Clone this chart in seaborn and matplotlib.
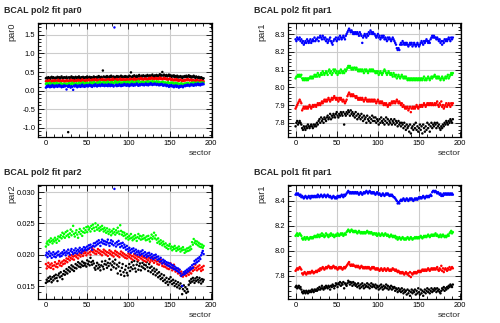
import numpy as np
import pandas as pd
import matplotlib
matplotlib.use("Agg")
import matplotlib.pyplot as plt
from matplotlib.ticker import MultipleLocator, FormatStrFormatter
import seaborn as sns

sectors = list(range(192))
series_names = ["black", "red", "green", "blue"]
series_colors = ["#000000", "#ff0000", "#00ff00", "#0000ff"]

# ---------------- BCAL pol2 fit par0 ----------------
p2par0_black = [
    0.33, 0.35, 0.32, 0.36, 0.34, 0.31, 0.35, 0.37, 0.33, 0.36, 0.34, 0.32, 0.35, 0.33, 0.37, 0.34, 0.36, 0.32, 0.35, 0.38, 0.34, 0.33, 0.36, 0.35,
    0.34, 0.37, 0.33, -1.12, 0.36, 0.32, 0.35, 0.38, 0.34, 0.36, 0.31, 0.35, 0.37, 0.33, 0.36, 0.34, 0.38, 0.35, 0.32, 0.36, 0.34, 0.37, 0.33, 0.35,
    0.36, 0.34, 0.38, 0.33, 0.35, 0.37, 0.34, 0.36, 0.32, 0.35, 0.38, 0.34, 0.36, 0.33, 0.37, 0.35, 0.39, 0.36, 0.34, 0.37, 0.35, 0.54, 0.38, 0.36,
    0.37, 0.35, 0.39, 0.36, 0.34, 0.38, 0.36, 0.40, 0.37, 0.35, 0.38, 0.36, 0.34, 0.37, 0.39, 0.36, 0.38, 0.35, 0.37, 0.40, 0.36, 0.38, 0.35, 0.37,
    0.39, 0.36, 0.38, 0.35, 0.37, 0.40, 0.38, 0.49, 0.36, 0.39, 0.37, 0.41, 0.38, 0.36, 0.40, 0.37, 0.39, 0.42, 0.38, 0.36, 0.40, 0.38, 0.41, 0.39,
    0.37, 0.40, 0.38, 0.42, 0.39, 0.37, 0.41, 0.38, 0.40, 0.43, 0.39, 0.37, 0.41, 0.38, 0.42, 0.40, 0.38, 0.41, 0.44, 0.39, 0.42, 0.50, 0.40, 0.43,
    0.41, 0.39, 0.42, 0.38, 0.40, 0.43, 0.39, 0.41, 0.37, 0.40, 0.38, 0.41, 0.36, 0.39, 0.37, 0.40, 0.35, 0.38, 0.36, 0.39, 0.37, 0.34, 0.38, 0.36,
    0.39, 0.37, 0.40, 0.36, 0.38, 0.41, 0.37, 0.39, 0.35, 0.38, 0.36, 0.40, 0.37, 0.34, 0.38, 0.36, 0.33, 0.37, 0.35, 0.32, 0.36, 0.34, 0.31, 0.33,
]
p2par0_red = [
    0.25, 0.27, 0.24, 0.26, 0.28, 0.25, 0.23, 0.27, 0.26, 0.24, 0.28, 0.25, 0.27, 0.24, 0.26, 0.29, 0.25, 0.27, 0.23, 0.26, 0.28, 0.25, 0.27, 0.24,
    0.26, 0.28, 0.25, 0.27, 0.24, 0.26, 0.29, 0.25, 0.27, 0.28, 0.24, 0.26, 0.28, 0.25, 0.27, 0.29, 0.26, 0.28, 0.25, 0.27, 0.30, 0.26, 0.28, 0.25,
    0.27, 0.29, 0.26, 0.28, 0.30, 0.27, 0.25, 0.29, 0.27, 0.30, 0.26, 0.28, 0.31, 0.27, 0.29, 0.26, 0.28, 0.30, 0.27, 0.29, 0.31, 0.28, 0.30, 0.27,
    0.29, 0.27, 0.30, 0.28, 0.31, 0.29, 0.27, 0.30, 0.28, 0.32, 0.29, 0.27, 0.30, 0.28, 0.31, 0.29, 0.27, 0.30, 0.32, 0.28, 0.30, 0.29, 0.31, 0.28,
    0.30, 0.28, 0.31, 0.29, 0.27, 0.30, 0.32, 0.29, 0.31, 0.28, 0.30, 0.33, 0.29, 0.31, 0.28, 0.30, 0.32, 0.29, 0.31, 0.34, 0.30, 0.32, 0.29, 0.31,
    0.33, 0.30, 0.32, 0.29, 0.31, 0.34, 0.30, 0.32, 0.35, 0.31, 0.33, 0.30, 0.32, 0.34, 0.31, 0.33, 0.30, 0.32, 0.35, 0.31, 0.33, 0.30, 0.32, 0.34,
    0.31, 0.33, 0.30, 0.32, 0.29, 0.31, 0.33, 0.30, 0.28, 0.31, 0.29, 0.27, 0.30, 0.28, 0.31, 0.27, 0.29, 0.26, 0.28, 0.30, 0.27, 0.25, 0.28, 0.26,
    0.29, 0.27, 0.30, 0.28, 0.31, 0.29, 0.27, 0.30, 0.28, 0.26, 0.29, 0.27, 0.25, 0.28, 0.26, 0.29, 0.27, 0.24, 0.27, 0.25, 0.28, 0.26, 0.23, 0.25,
]
p2par0_green = [
    0.18, 0.20, 0.17, 0.19, 0.16, 0.21, 0.18, 0.15, 0.19, 0.17, 0.20, 0.16, 0.18, 0.21, 0.17, 0.19, 0.16, 0.18, 0.20, 0.15, 0.18, 0.17, 0.19, 0.16,
    0.17, 0.19, 0.15, 0.18, 0.20, 0.16, 0.19, 0.17, 0.21, 0.18, 0.16, 0.19, 0.17, 0.20, 0.18, 0.16, 0.21, 0.19, 0.17, 0.20, 0.18, 0.22, 0.19, 0.17,
    0.20, 0.18, 0.21, 0.19, 0.17, 0.20, 0.22, 0.18, 0.21, 0.19, 0.23, 0.20, 0.18, 0.21, 0.19, 0.22, 0.20, 0.24, 0.21, 0.19, 0.22, 0.20, 0.23, 0.21,
    0.19, 0.22, 0.20, 0.24, 0.21, 0.19, 0.22, 0.20, 0.23, 0.21, 0.19, 0.22, 0.25, 0.21, 0.23, 0.20, 0.22, 0.24, 0.21, 0.19, 0.22, 0.20, 0.23, 0.21,
    0.23, 0.20, 0.22, 0.24, 0.21, 0.23, 0.20, 0.22, 0.25, 0.21, 0.23, 0.20, 0.22, 0.24, 0.21, 0.23, 0.26, 0.22, 0.20, 0.23, 0.21, 0.24, 0.22, 0.20,
    0.23, 0.21, 0.24, 0.22, 0.25, 0.23, 0.21, 0.24, 0.22, 0.26, 0.23, 0.21, 0.24, 0.22, 0.25, 0.23, 0.21, 0.24, 0.22, 0.20, 0.23, 0.21, 0.24, 0.22,
    0.20, 0.22, 0.19, 0.21, 0.23, 0.20, 0.18, 0.21, 0.19, 0.22, 0.20, 0.17, 0.19, 0.21, 0.18, 0.20, 0.17, 0.19, 0.16, 0.18, 0.20, 0.17, 0.15, 0.18,
    0.19, 0.17, 0.20, 0.18, 0.21, 0.19, 0.17, 0.20, 0.18, 0.21, 0.19, 0.22, 0.20, 0.18, 0.21, 0.19, 0.22, 0.20, 0.18, 0.21, 0.19, 0.22, 0.20, 0.21,
]
p2par0_blue = [
    0.08, 0.12, 0.10, 0.14, 0.11, 0.09, 0.13, 0.10, 0.15, 0.12, 0.09, 0.13, 0.11, 0.14, 0.10, 0.12, 0.15, 0.11, 0.13, 0.09, 0.12, 0.10, 0.14, 0.11,
    0.13, 0.03, 0.12, 0.10, 0.14, 0.11, 0.08, 0.12, 0.10, 0.02, 0.13, 0.11, 0.15, 0.12, 0.09, 0.13, 0.11, 0.14, 0.10, 0.12, 0.16, 0.11, 0.13, 0.10,
    0.14, 0.12, 0.15, 0.11, 0.13, 0.16, 0.12, 0.14, 0.10, 0.13, 0.15, 0.12, 0.17, 0.13, 0.11, 0.15, 0.13, 0.16, 0.12, 0.14, 0.17, 0.13, 0.15, 0.12,
    0.16, 0.13, 0.15, 0.12, 0.17, 0.14, 0.12, 0.16, 0.13, 0.15, 0.11, 1.70, 0.14, 0.16, 0.12, 0.15, 0.13, 0.17, 0.14, 0.12, 0.16, 0.13, 0.15, 0.18,
    0.14, 0.16, 0.13, 0.17, 0.15, 0.12, 0.16, 0.14, 0.18, 0.15, 0.13, 0.17, 0.14, 0.16, 0.19, 0.15, 0.13, 0.17, 0.14, 0.16, 0.18, 0.15, 0.17, 0.14,
    0.16, 0.19, 0.15, 0.17, 0.14, 0.18, 0.16, 0.20, 0.17, 0.15, 0.18, 0.16, 0.19, 0.17, 0.15, 0.18, 0.16, 0.14, 0.17, 0.15, 0.18, 0.16, 0.13, 0.16,
    0.14, 0.16, 0.12, 0.15, 0.13, 0.10, 0.14, 0.12, 0.15, 0.11, 0.13, 0.09, 0.12, 0.14, 0.10, 0.13, 0.11, 0.08, 0.12, 0.10, 0.13, 0.11, 0.09, 0.12,
    0.14, 0.12, 0.15, 0.13, 0.16, 0.14, 0.12, 0.15, 0.17, 0.14, 0.16, 0.13, 0.15, 0.18, 0.14, 0.16, 0.19, 0.15, 0.17, 0.14, 0.18, 0.16, 0.19, 0.17,
]

# ---------------- BCAL pol2 fit par1 ----------------
p2par1_black = [
    7.78, 7.80, 7.81, 7.79, 7.80, 7.81, 7.80, 7.79, 7.77, 7.76, 7.78, 7.77, 7.76, 7.78, 7.77, 7.79, 7.78, 7.77, 7.78, 7.79, 7.78, 7.77, 7.79, 7.78,
    7.79, 7.78, 7.80, 7.79, 7.81, 7.82, 7.80, 7.83, 7.81, 7.82, 7.80, 7.83, 7.82, 7.81, 7.83, 7.84, 7.82, 7.83, 7.85, 7.82, 7.84, 7.83, 7.85, 7.84,
    7.83, 7.85, 7.86, 7.84, 7.83, 7.85, 7.84, 7.86, 7.85, 7.84, 7.86, 7.79, 7.85, 7.84, 7.86, 7.85, 7.87, 7.86, 7.84, 7.87, 7.85, 7.86, 7.84, 7.85,
    7.83, 7.86, 7.84, 7.82, 7.85, 7.83, 7.84, 7.82, 7.85, 7.83, 7.81, 7.84, 7.82, 7.83, 7.80, 7.84, 7.82, 7.81, 7.83, 7.80, 7.82, 7.84, 7.81, 7.83,
    7.81, 7.83, 7.80, 7.82, 7.81, 7.79, 7.82, 7.80, 7.83, 7.81, 7.80, 7.82, 7.79, 7.81, 7.83, 7.80, 7.82, 7.79, 7.81, 7.80, 7.82, 7.79, 7.81, 7.80,
    7.82, 7.79, 7.81, 7.80, 7.78, 7.81, 7.79, 7.80, 7.78, 7.80, 7.79, 7.77, 7.80, 7.78, 7.76, 7.79, 7.77, 7.78, 7.75, 7.79, 7.74, 7.77, 7.78, 7.76,
    7.79, 7.77, 7.80, 7.76, 7.78, 7.75, 7.77, 7.79, 7.76, 7.78, 7.74, 7.79, 7.77, 7.75, 7.78, 7.76, 7.80, 7.77, 7.79, 7.75, 7.78, 7.80, 7.77, 7.79,
    7.78, 7.80, 7.79, 7.77, 7.80, 7.78, 7.79, 7.77, 7.76, 7.78, 7.77, 7.79, 7.78, 7.80, 7.79, 7.81, 7.80, 7.79, 7.81, 7.80, 7.82, 7.81, 7.80, 7.82,
]
p2par1_red = [
    7.88, 7.89, 7.90, 7.91, 7.92, 7.93, 7.92, 7.91, 7.87, 7.88, 7.89, 7.88, 7.89, 7.88, 7.89, 7.88, 7.89, 7.90, 7.89, 7.88, 7.89, 7.90, 7.89, 7.90,
    7.90, 7.89, 7.90, 7.91, 7.90, 7.91, 7.90, 7.91, 7.92, 7.91, 7.92, 7.93, 7.92, 7.93, 7.92, 7.93, 7.94, 7.93, 7.92, 7.93, 7.94, 7.93, 7.94, 7.95,
    7.94, 7.93, 7.94, 7.93, 7.92, 7.94, 7.93, 7.94, 7.93, 7.92, 7.93, 7.92, 7.91, 7.92, 7.93, 7.95, 7.96, 7.97, 7.96, 7.95, 7.96, 7.95, 7.96, 7.95,
    7.95, 7.94, 7.95, 7.94, 7.93, 7.94, 7.93, 7.94, 7.93, 7.94, 7.93, 7.92, 7.93, 7.94, 7.93, 7.92, 7.93, 7.92, 7.93, 7.92, 7.93, 7.92, 7.93, 7.92,
    7.93, 7.92, 7.91, 7.92, 7.93, 7.92, 7.91, 7.92, 7.91, 7.92, 7.91, 7.90, 7.91, 7.90, 7.91, 7.90, 7.89, 7.90, 7.91, 7.90, 7.91, 7.92, 7.91, 7.92,
    7.92, 7.91, 7.92, 7.93, 7.92, 7.91, 7.92, 7.91, 7.90, 7.91, 7.89, 7.90, 7.89, 7.88, 7.89, 7.88, 7.89, 7.87, 7.88, 7.89, 7.86, 7.88, 7.89, 7.88,
    7.89, 7.88, 7.89, 7.90, 7.89, 7.88, 7.89, 7.90, 7.89, 7.90, 7.89, 7.90, 7.91, 7.90, 7.89, 7.90, 7.91, 7.90, 7.91, 7.90, 7.91, 7.90, 7.91, 7.90,
    7.90, 7.91, 7.90, 7.91, 7.92, 7.90, 7.89, 7.91, 7.90, 7.92, 7.89, 7.90, 7.88, 7.89, 7.90, 7.91, 7.89, 7.90, 7.91, 7.90, 7.89, 7.91, 7.90, 7.91,
]
p2par1_green = [
    8.05, 8.06, 8.06, 8.07, 8.06, 8.07, 8.06, 8.07, 8.05, 8.04, 8.05, 8.04, 8.05, 8.04, 8.05, 8.04, 8.05, 8.05, 8.06, 8.05, 8.06, 8.05, 8.06, 8.07,
    8.06, 8.07, 8.06, 8.08, 8.07, 8.06, 8.07, 8.08, 8.07, 8.09, 8.08, 8.07, 8.08, 8.09, 8.08, 8.07, 8.09, 8.10, 8.08, 8.09, 8.07, 8.08, 8.10, 8.09,
    8.10, 8.08, 8.09, 8.07, 8.08, 8.09, 8.08, 8.10, 8.09, 8.08, 8.09, 8.08, 8.10, 8.09, 8.10, 8.11, 8.12, 8.11, 8.12, 8.11, 8.10, 8.11, 8.10, 8.11,
    8.11, 8.10, 8.11, 8.10, 8.09, 8.10, 8.09, 8.10, 8.09, 8.10, 8.09, 8.08, 8.10, 8.09, 8.10, 8.09, 8.08, 8.09, 8.10, 8.09, 8.10, 8.09, 8.10, 8.09,
    8.09, 8.08, 8.09, 8.08, 8.09, 8.07, 8.08, 8.09, 8.08, 8.07, 8.08, 8.09, 8.10, 8.09, 8.08, 8.07, 8.08, 8.09, 8.08, 8.07, 8.08, 8.07, 8.06, 8.08,
    8.07, 8.06, 8.07, 8.05, 8.06, 8.07, 8.06, 8.05, 8.06, 8.07, 8.06, 8.05, 8.06, 8.05, 8.06, 8.05, 8.04, 8.05, 8.04, 8.05, 8.04, 8.05, 8.04, 8.05,
    8.04, 8.05, 8.04, 8.05, 8.04, 8.05, 8.04, 8.05, 8.04, 8.05, 8.04, 8.05, 8.06, 8.04, 8.05, 8.04, 8.05, 8.06, 8.05, 8.04, 8.05, 8.06, 8.05, 8.06,
    8.06, 8.07, 8.06, 8.05, 8.06, 8.05, 8.06, 8.05, 8.04, 8.05, 8.06, 8.05, 8.04, 8.05, 8.06, 8.05, 8.06, 8.07, 8.05, 8.06, 8.07, 8.08, 8.07, 8.08,
]
p2par1_blue = [
    8.27, 8.26, 8.28, 8.27, 8.27, 8.28, 8.26, 8.27, 8.25, 8.26, 8.24, 8.25, 8.26, 8.25, 8.27, 8.26, 8.25, 8.26, 8.27, 8.25, 8.26, 8.27, 8.26, 8.28,
    8.26, 8.27, 8.27, 8.28, 8.26, 8.28, 8.29, 8.28, 8.27, 8.29, 8.28, 8.27, 8.28, 8.26, 8.27, 8.25, 8.26, 8.27, 8.28, 8.26, 8.25, 8.24, 8.26, 8.27,
    8.27, 8.28, 8.26, 8.27, 8.28, 8.27, 8.29, 8.28, 8.27, 8.28, 8.29, 8.28, 8.27, 8.29, 8.30, 8.31, 8.32, 8.33, 8.32, 8.31, 8.32, 8.31, 8.30, 8.31,
    8.30, 8.31, 8.30, 8.31, 8.30, 8.29, 8.31, 8.30, 8.29, 8.25, 8.28, 8.29, 8.30, 8.29, 8.28, 8.30, 8.29, 8.31, 8.30, 8.32, 8.31, 8.30, 8.31, 8.30,
    8.30, 8.29, 8.28, 8.29, 8.30, 8.28, 8.29, 8.27, 8.28, 8.29, 8.28, 8.29, 8.27, 8.28, 8.27, 8.26, 8.28, 8.27, 8.28, 8.27, 8.26, 8.27, 8.28, 8.27,
    8.26, 8.25, 8.24, 8.22, 8.21, 8.22, 8.21, 8.24, 8.25, 8.24, 8.26, 8.25, 8.24, 8.25, 8.24, 8.25, 8.24, 8.23, 8.24, 8.25, 8.24, 8.25, 8.23, 8.24,
    8.25, 8.24, 8.23, 8.24, 8.25, 8.24, 8.23, 8.24, 8.25, 8.26, 8.25, 8.24, 8.26, 8.25, 8.26, 8.27, 8.26, 8.25, 8.26, 8.25, 8.27, 8.28, 8.29, 8.28,
    8.29, 8.28, 8.28, 8.27, 8.28, 8.27, 8.26, 8.27, 8.25, 8.26, 8.24, 8.26, 8.25, 8.27, 8.26, 8.27, 8.26, 8.27, 8.28, 8.27, 8.26, 8.28, 8.27, 8.28,
]

# ---------------- BCAL pol2 fit par2 ----------------
p2par2_black = [
    0.0155, 0.0160, 0.0157, 0.0163, 0.0158, 0.0165, 0.0161, 0.0156, 0.0164, 0.0159, 0.0166, 0.0162, 0.0168, 0.0163, 0.0158, 0.0167, 0.0170, 0.0164, 0.0172, 0.0166, 0.0161, 0.0169, 0.0174, 0.0168,
    0.0172, 0.0177, 0.0170, 0.0175, 0.0180, 0.0173, 0.0178, 0.0183, 0.0176, 0.0181, 0.0174, 0.0179, 0.0185, 0.0178, 0.0183, 0.0188, 0.0181, 0.0186, 0.0180, 0.0184, 0.0189, 0.0182, 0.0187, 0.0183,
    0.0186, 0.0181, 0.0191, 0.0185, 0.0189, 0.0183, 0.0195, 0.0188, 0.0184, 0.0190, 0.0186, 0.0179, 0.0176, 0.0182, 0.0187, 0.0178, 0.0184, 0.0180, 0.0175, 0.0183, 0.0189, 0.0181, 0.0177, 0.0185,
    0.0190, 0.0184, 0.0179, 0.0187, 0.0182, 0.0193, 0.0186, 0.0176, 0.0183, 0.0189, 0.0180, 0.0186, 0.0192, 0.0178, 0.0184, 0.0170, 0.0181, 0.0187, 0.0174, 0.0168, 0.0179, 0.0185, 0.0172, 0.0166,
    0.0176, 0.0182, 0.0171, 0.0167, 0.0179, 0.0185, 0.0174, 0.0180, 0.0188, 0.0177, 0.0183, 0.0190, 0.0178, 0.0173, 0.0184, 0.0189, 0.0176, 0.0182, 0.0186, 0.0175, 0.0181, 0.0187, 0.0179, 0.0184,
    0.0177, 0.0183, 0.0188, 0.0180, 0.0174, 0.0185, 0.0179, 0.0172, 0.0181, 0.0175, 0.0169, 0.0178, 0.0173, 0.0167, 0.0176, 0.0170, 0.0164, 0.0172, 0.0166, 0.0161, 0.0169, 0.0163, 0.0158, 0.0167,
    0.0160, 0.0155, 0.0163, 0.0157, 0.0152, 0.0161, 0.0156, 0.0164, 0.0158, 0.0153, 0.0160, 0.0155, 0.0150, 0.0158, 0.0153, 0.0148, 0.0156, 0.0151, 0.0146, 0.0154, 0.0149, 0.0137, 0.0145, 0.0151,
    0.0142, 0.0148, 0.0139, 0.0145, 0.0141, 0.0152, 0.0158, 0.0155, 0.0161, 0.0157, 0.0163, 0.0159, 0.0155, 0.0162, 0.0158, 0.0164, 0.0160, 0.0156, 0.0163, 0.0159, 0.0154, 0.0161, 0.0157, 0.0160,
]
p2par2_red = [
    0.0185, 0.0178, 0.0182, 0.0187, 0.0180, 0.0184, 0.0179, 0.0186, 0.0182, 0.0177, 0.0183, 0.0188, 0.0181, 0.0185, 0.0180, 0.0186, 0.0190, 0.0183, 0.0187, 0.0182, 0.0189, 0.0185, 0.0191, 0.0186,
    0.0190, 0.0194, 0.0188, 0.0193, 0.0197, 0.0191, 0.0195, 0.0199, 0.0193, 0.0197, 0.0192, 0.0198, 0.0202, 0.0196, 0.0200, 0.0194, 0.0199, 0.0203, 0.0197, 0.0201, 0.0205, 0.0198, 0.0202, 0.0206,
    0.0203, 0.0199, 0.0207, 0.0202, 0.0209, 0.0204, 0.0200, 0.0206, 0.0211, 0.0204, 0.0208, 0.0202, 0.0206, 0.0201, 0.0205, 0.0209, 0.0203, 0.0207, 0.0201, 0.0205, 0.0199, 0.0204, 0.0208, 0.0202,
    0.0206, 0.0200, 0.0204, 0.0198, 0.0203, 0.0207, 0.0201, 0.0205, 0.0199, 0.0203, 0.0197, 0.0202, 0.0206, 0.0200, 0.0204, 0.0198, 0.0202, 0.0196, 0.0201, 0.0205, 0.0199, 0.0203, 0.0197, 0.0201,
    0.0195, 0.0199, 0.0194, 0.0198, 0.0202, 0.0196, 0.0200, 0.0194, 0.0198, 0.0192, 0.0197, 0.0201, 0.0195, 0.0199, 0.0193, 0.0197, 0.0191, 0.0196, 0.0200, 0.0194, 0.0198, 0.0192, 0.0196, 0.0190,
    0.0195, 0.0189, 0.0193, 0.0198, 0.0191, 0.0195, 0.0188, 0.0192, 0.0196, 0.0190, 0.0194, 0.0187, 0.0191, 0.0195, 0.0189, 0.0185, 0.0190, 0.0184, 0.0188, 0.0192, 0.0186, 0.0182, 0.0187, 0.0181,
    0.0185, 0.0180, 0.0184, 0.0178, 0.0183, 0.0177, 0.0181, 0.0186, 0.0179, 0.0175, 0.0180, 0.0184, 0.0177, 0.0173, 0.0178, 0.0174, 0.0170, 0.0176, 0.0171, 0.0167, 0.0173, 0.0169, 0.0165, 0.0171,
    0.0168, 0.0172, 0.0166, 0.0170, 0.0174, 0.0168, 0.0172, 0.0176, 0.0170, 0.0178, 0.0174, 0.0180, 0.0176, 0.0184, 0.0179, 0.0175, 0.0181, 0.0177, 0.0183, 0.0178, 0.0174, 0.0180, 0.0176, 0.0182,
]
p2par2_green = [
    0.0213, 0.0218, 0.0221, 0.0216, 0.0223, 0.0220, 0.0226, 0.0222, 0.0218, 0.0224, 0.0221, 0.0227, 0.0223, 0.0219, 0.0225, 0.0229, 0.0222, 0.0228, 0.0231, 0.0226, 0.0235, 0.0229, 0.0233, 0.0227,
    0.0236, 0.0230, 0.0238, 0.0232, 0.0228, 0.0234, 0.0240, 0.0231, 0.0237, 0.0246, 0.0233, 0.0229, 0.0235, 0.0239, 0.0232, 0.0227, 0.0236, 0.0241, 0.0233, 0.0238, 0.0230, 0.0236, 0.0242, 0.0235,
    0.0239, 0.0244, 0.0236, 0.0245, 0.0240, 0.0243, 0.0237, 0.0246, 0.0241, 0.0248, 0.0243, 0.0238, 0.0250, 0.0244, 0.0240, 0.0247, 0.0242, 0.0238, 0.0244, 0.0240, 0.0246, 0.0241, 0.0237, 0.0243,
    0.0239, 0.0235, 0.0242, 0.0237, 0.0233, 0.0240, 0.0236, 0.0231, 0.0238, 0.0234, 0.0241, 0.0236, 0.0232, 0.0239, 0.0235, 0.0243, 0.0237, 0.0233, 0.0247, 0.0238, 0.0232, 0.0236, 0.0230, 0.0235,
    0.0231, 0.0226, 0.0233, 0.0228, 0.0224, 0.0230, 0.0226, 0.0233, 0.0227, 0.0223, 0.0229, 0.0225, 0.0231, 0.0227, 0.0222, 0.0228, 0.0233, 0.0226, 0.0230, 0.0224, 0.0229, 0.0225, 0.0231, 0.0226,
    0.0227, 0.0223, 0.0229, 0.0224, 0.0230, 0.0225, 0.0221, 0.0227, 0.0232, 0.0225, 0.0229, 0.0235, 0.0226, 0.0231, 0.0224, 0.0219, 0.0226, 0.0221, 0.0217, 0.0223, 0.0219, 0.0215, 0.0221, 0.0217,
    0.0213, 0.0218, 0.0211, 0.0215, 0.0209, 0.0214, 0.0217, 0.0210, 0.0213, 0.0207, 0.0212, 0.0209, 0.0214, 0.0210, 0.0206, 0.0211, 0.0208, 0.0213, 0.0209, 0.0205, 0.0210, 0.0207, 0.0212, 0.0208,
    0.0203, 0.0208, 0.0205, 0.0210, 0.0206, 0.0211, 0.0207, 0.0213, 0.0209, 0.0220, 0.0216, 0.0225, 0.0219, 0.0222, 0.0217, 0.0221, 0.0215, 0.0219, 0.0213, 0.0217, 0.0212, 0.0216, 0.0211, 0.0214,
]
p2par2_blue = [
    0.0199, 0.0203, 0.0196, 0.0201, 0.0205, 0.0198, 0.0202, 0.0195, 0.0200, 0.0204, 0.0197, 0.0201, 0.0196, 0.0203, 0.0199, 0.0205, 0.0200, 0.0197, 0.0202, 0.0198, 0.0204, 0.0201, 0.0207, 0.0203,
    0.0199, 0.0205, 0.0202, 0.0208, 0.0203, 0.0200, 0.0206, 0.0209, 0.0204, 0.0201, 0.0207, 0.0203, 0.0210, 0.0206, 0.0202, 0.0208, 0.0205, 0.0211, 0.0207, 0.0203, 0.0209, 0.0206, 0.0212, 0.0208,
    0.0211, 0.0207, 0.0213, 0.0209, 0.0215, 0.0211, 0.0216, 0.0212, 0.0208, 0.0214, 0.0218, 0.0213, 0.0219, 0.0215, 0.0221, 0.0217, 0.0223, 0.0219, 0.0214, 0.0220, 0.0224, 0.0218, 0.0222, 0.0217,
    0.0221, 0.0216, 0.0220, 0.0224, 0.0218, 0.0214, 0.0219, 0.0223, 0.0217, 0.0221, 0.0215, 0.0305, 0.0218, 0.0213, 0.0220, 0.0216, 0.0222, 0.0217, 0.0212, 0.0218, 0.0214, 0.0219, 0.0211, 0.0216,
    0.0212, 0.0208, 0.0214, 0.0209, 0.0205, 0.0211, 0.0207, 0.0203, 0.0209, 0.0205, 0.0210, 0.0206, 0.0202, 0.0208, 0.0204, 0.0200, 0.0206, 0.0203, 0.0199, 0.0205, 0.0201, 0.0207, 0.0202, 0.0198,
    0.0204, 0.0200, 0.0196, 0.0202, 0.0198, 0.0203, 0.0199, 0.0195, 0.0201, 0.0197, 0.0193, 0.0199, 0.0195, 0.0200, 0.0196, 0.0192, 0.0197, 0.0193, 0.0189, 0.0195, 0.0190, 0.0186, 0.0192, 0.0188,
    0.0190, 0.0185, 0.0188, 0.0183, 0.0187, 0.0182, 0.0186, 0.0180, 0.0184, 0.0179, 0.0183, 0.0177, 0.0181, 0.0176, 0.0179, 0.0174, 0.0178, 0.0172, 0.0176, 0.0170, 0.0166, 0.0150, 0.0168, 0.0172,
    0.0169, 0.0174, 0.0171, 0.0176, 0.0173, 0.0178, 0.0175, 0.0180, 0.0177, 0.0183, 0.0179, 0.0185, 0.0190, 0.0186, 0.0192, 0.0188, 0.0194, 0.0190, 0.0196, 0.0193, 0.0199, 0.0203, 0.0206, 0.0201,
]

# ---------------- BCAL pol1 fit par1 ----------------
p1par1_black = [
    7.71, 7.72, 7.70, 7.71, 7.72, 7.70, 7.71, 7.69, 7.67, 7.66, 7.68, 7.67, 7.66, 7.68, 7.67, 7.66, 7.68, 7.67, 7.68, 7.67, 7.69, 7.68, 7.67, 7.69,
    7.68, 7.69, 7.68, 7.70, 7.69, 7.71, 7.69, 7.70, 7.72, 7.70, 7.69, 7.71, 7.70, 7.72, 7.71, 7.70, 7.72, 7.71, 7.69, 7.72, 7.71, 7.73, 7.72, 7.70,
    7.72, 7.74, 7.73, 7.71, 7.74, 7.73, 7.75, 7.72, 7.74, 7.73, 7.75, 7.70, 7.74, 7.73, 7.72, 7.74, 7.76, 7.75, 7.73, 7.75, 7.74, 7.72, 7.75, 7.73,
    7.74, 7.72, 7.73, 7.71, 7.74, 7.72, 7.70, 7.73, 7.71, 7.74, 7.72, 7.70, 7.73, 7.71, 7.72, 7.74, 7.71, 7.73, 7.70, 7.72, 7.74, 7.71, 7.73, 7.72,
    7.71, 7.73, 7.70, 7.72, 7.71, 7.69, 7.72, 7.70, 7.73, 7.71, 7.69, 7.72, 7.70, 7.71, 7.73, 7.70, 7.72, 7.69, 7.71, 7.70, 7.72, 7.69, 7.71, 7.70,
    7.71, 7.68, 7.70, 7.69, 7.67, 7.70, 7.68, 7.69, 7.67, 7.70, 7.68, 7.66, 7.69, 7.67, 7.68, 7.65, 7.69, 7.66, 7.68, 7.64, 7.67, 7.69, 7.66, 7.68,
    7.67, 7.69, 7.65, 7.68, 7.66, 7.70, 7.67, 7.65, 7.69, 7.66, 7.68, 7.64, 7.67, 7.69, 7.66, 7.68, 7.70, 7.67, 7.69, 7.66, 7.68, 7.70, 7.67, 7.69,
    7.68, 7.70, 7.69, 7.67, 7.70, 7.68, 7.69, 7.67, 7.66, 7.68, 7.70, 7.69, 7.71, 7.68, 7.70, 7.69, 7.71, 7.70, 7.72, 7.71, 7.73, 7.72, 7.71, 7.73,
]
p1par1_red = [
    7.84, 7.85, 7.86, 7.85, 7.86, 7.87, 7.86, 7.85, 7.82, 7.81, 7.82, 7.83, 7.82, 7.81, 7.82, 7.83, 7.82, 7.83, 7.82, 7.83, 7.84, 7.83, 7.82, 7.83,
    7.83, 7.84, 7.83, 7.84, 7.85, 7.84, 7.86, 7.85, 7.86, 7.87, 7.86, 7.85, 7.86, 7.87, 7.86, 7.87, 7.88, 7.87, 7.86, 7.87, 7.86, 7.87, 7.88, 7.87,
    7.86, 7.87, 7.86, 7.85, 7.86, 7.87, 7.86, 7.87, 7.86, 7.85, 7.86, 7.87, 7.86, 7.87, 7.88, 7.89, 7.90, 7.91, 7.89, 7.88, 7.89, 7.88, 7.89, 7.88,
    7.88, 7.87, 7.88, 7.87, 7.88, 7.87, 7.86, 7.87, 7.88, 7.87, 7.86, 7.87, 7.86, 7.87, 7.86, 7.87, 7.86, 7.87, 7.86, 7.85, 7.86, 7.87, 7.86, 7.87,
    7.86, 7.85, 7.86, 7.85, 7.86, 7.85, 7.84, 7.85, 7.86, 7.85, 7.84, 7.85, 7.86, 7.85, 7.84, 7.85, 7.86, 7.85, 7.84, 7.85, 7.84, 7.85, 7.86, 7.85,
    7.85, 7.84, 7.85, 7.84, 7.83, 7.84, 7.83, 7.82, 7.83, 7.82, 7.83, 7.82, 7.81, 7.82, 7.83, 7.82, 7.81, 7.82, 7.80, 7.83, 7.79, 7.82, 7.81, 7.82,
    7.83, 7.82, 7.83, 7.82, 7.83, 7.84, 7.83, 7.84, 7.83, 7.84, 7.85, 7.84, 7.85, 7.84, 7.85, 7.84, 7.85, 7.86, 7.85, 7.84, 7.85, 7.86, 7.85, 7.86,
    7.85, 7.86, 7.85, 7.86, 7.87, 7.85, 7.84, 7.86, 7.85, 7.88, 7.84, 7.86, 7.83, 7.85, 7.86, 7.85, 7.84, 7.86, 7.85, 7.87, 7.85, 7.86, 7.87, 7.86,
]
p1par1_green = [
    8.12, 8.13, 8.14, 8.12, 8.13, 8.14, 8.13, 8.12, 8.10, 8.09, 8.10, 8.11, 8.09, 8.10, 8.11, 8.10, 8.09, 8.10, 8.11, 8.10, 8.11, 8.10, 8.11, 8.12,
    8.11, 8.12, 8.11, 8.13, 8.12, 8.11, 8.13, 8.12, 8.14, 8.12, 8.13, 8.11, 8.12, 8.14, 8.13, 8.12, 8.11, 8.13, 8.12, 8.14, 8.13, 8.12, 8.13, 8.11,
    8.12, 8.13, 8.12, 8.14, 8.13, 8.12, 8.13, 8.14, 8.13, 8.14, 8.12, 8.13, 8.14, 8.13, 8.15, 8.16, 8.17, 8.16, 8.15, 8.16, 8.17, 8.16, 8.15, 8.16,
    8.15, 8.16, 8.15, 8.14, 8.15, 8.16, 8.15, 8.14, 8.15, 8.14, 8.15, 8.14, 8.15, 8.14, 8.15, 8.16, 8.15, 8.14, 8.15, 8.14, 8.15, 8.14, 8.13, 8.14,
    8.14, 8.13, 8.14, 8.12, 8.13, 8.14, 8.13, 8.12, 8.13, 8.14, 8.13, 8.12, 8.13, 8.14, 8.13, 8.12, 8.13, 8.12, 8.11, 8.12, 8.13, 8.12, 8.11, 8.12,
    8.11, 8.12, 8.10, 8.11, 8.09, 8.10, 8.11, 8.10, 8.09, 8.10, 8.11, 8.10, 8.09, 8.10, 8.09, 8.10, 8.11, 8.10, 8.09, 8.10, 8.11, 8.10, 8.09, 8.10,
    8.10, 8.11, 8.10, 8.11, 8.10, 8.11, 8.10, 8.11, 8.12, 8.11, 8.10, 8.11, 8.12, 8.11, 8.12, 8.11, 8.12, 8.13, 8.12, 8.11, 8.12, 8.13, 8.12, 8.13,
    8.12, 8.13, 8.14, 8.12, 8.13, 8.12, 8.11, 8.12, 8.13, 8.11, 8.12, 8.13, 8.12, 8.11, 8.12, 8.11, 8.12, 8.13, 8.12, 8.14, 8.15, 8.16, 8.14, 8.15,
]
p1par1_blue = [
    8.45, 8.46, 8.45, 8.46, 8.45, 8.44, 8.45, 8.43, 8.44, 8.43, 8.42, 8.43, 8.44, 8.43, 8.42, 8.43, 8.44, 8.43, 8.42, 8.44, 8.43, 8.44, 8.43, 8.44,
    8.43, 8.44, 8.43, 8.45, 8.44, 8.43, 8.44, 8.45, 8.44, 8.43, 8.44, 8.45, 8.44, 8.43, 8.44, 8.45, 8.44, 8.43, 8.44, 8.43, 8.42, 8.43, 8.44, 8.43,
    8.42, 8.43, 8.42, 8.44, 8.43, 8.44, 8.43, 8.44, 8.45, 8.44, 8.43, 8.45, 8.44, 8.45, 8.46, 8.47, 8.48, 8.47, 8.46, 8.47, 8.46, 8.47, 8.46, 8.47,
    8.46, 8.47, 8.46, 8.47, 8.46, 8.45, 8.46, 8.47, 8.46, 8.45, 8.46, 8.47, 8.46, 8.47, 8.48, 8.47, 8.46, 8.47, 8.48, 8.47, 8.46, 8.47, 8.46, 8.47,
    8.46, 8.45, 8.46, 8.47, 8.46, 8.45, 8.46, 8.45, 8.44, 8.45, 8.46, 8.45, 8.44, 8.45, 8.46, 8.45, 8.46, 8.45, 8.44, 8.45, 8.44, 8.45, 8.44, 8.43,
    8.43, 8.42, 8.41, 8.40, 8.38, 8.39, 8.38, 8.40, 8.41, 8.40, 8.41, 8.42, 8.41, 8.40, 8.41, 8.42, 8.41, 8.40, 8.41, 8.42, 8.41, 8.42, 8.41, 8.40,
    8.41, 8.42, 8.41, 8.42, 8.41, 8.42, 8.43, 8.42, 8.43, 8.42, 8.43, 8.44, 8.43, 8.42, 8.43, 8.44, 8.43, 8.44, 8.43, 8.44, 8.45, 8.44, 8.47, 8.48,
    8.48, 8.47, 8.48, 8.47, 8.46, 8.47, 8.46, 8.45, 8.46, 8.44, 8.45, 8.44, 8.46, 8.45, 8.46, 8.45, 8.46, 8.45, 8.46, 8.45, 8.46, 8.45, 8.46, 8.45,
]

panels = [
    dict(title="BCAL pol2 fit par0", ylabel="par0", series=[p2par0_black, p2par0_red, p2par0_green, p2par0_blue]),
    dict(title="BCAL pol2 fit par1", ylabel="par1", series=[p2par1_black, p2par1_red, p2par1_green, p2par1_blue]),
    dict(title="BCAL pol2 fit par2", ylabel="par2", series=[p2par2_black, p2par2_red, p2par2_green, p2par2_blue]),
    dict(title="BCAL pol1 fit par1", ylabel="par1", series=[p1par1_black, p1par1_red, p1par1_green, p1par1_blue]),
]

# layout / styling (not data)
axes_rects = [
    [0.076, 0.5759, 0.347, 0.3529],
    [0.5754, 0.5759, 0.346, 0.3529],
    [0.076, 0.0734, 0.347, 0.3548],
    [0.5754, 0.0734, 0.346, 0.3548],
]
title_pos = [(0.008, 0.967), (0.508, 0.967), (0.008, 0.467), (0.508, 0.467)]
ylims = [(-1.25, 1.82), (7.72, 8.362), (0.01288, 0.03117), (7.612, 8.53)]
ymajor = [0.5, 0.1, 0.005, 0.2]
yminor = [0.1, 0.02, 0.001, 0.04]
yfmt = ["%.1f", "%.1f", "%.3f", "%.1f"]

sns.set_style("ticks")
plt.rcParams["font.family"] = ["Liberation Sans", "DejaVu Sans"]

fig = plt.figure(figsize=(5.0, 3.23), dpi=100)

for i, pan in enumerate(panels):
    for s in pan["series"]:
        assert len(s) == 192, (pan["title"], [len(q) for q in pan["series"]])
    ax = fig.add_axes(axes_rects[i])
    frames = []
    for name, vals in zip(series_names, pan["series"]):
        frames.append(pd.DataFrame({"sector": sectors, "value": vals, "series": name}))
    df = pd.concat(frames, ignore_index=True)
    sns.scatterplot(data=df, x="sector", y="value", hue="series",
                    hue_order=series_names, palette=series_colors,
                    s=3.2, linewidth=0, marker="o", legend=False, ax=ax, zorder=3)
    ax.set_xlim(-9.55, 200.55)
    ax.set_ylim(*ylims[i])
    ax.xaxis.set_major_locator(MultipleLocator(50))
    ax.xaxis.set_minor_locator(MultipleLocator(10))
    ax.yaxis.set_major_locator(MultipleLocator(ymajor[i]))
    ax.yaxis.set_minor_locator(MultipleLocator(yminor[i]))
    ax.yaxis.set_major_formatter(FormatStrFormatter(yfmt[i]))
    ax.grid(True, which="major", color="#cccccc", linewidth=0.8, zorder=0)
    ax.set_axisbelow(True)
    ax.tick_params(which="both", direction="in", top=True, right=True,
                   labelsize=5.4, colors="black", width=0.6)
    ax.tick_params(which="major", length=4, pad=2)
    ax.tick_params(which="minor", length=2)
    for sp in ax.spines.values():
        sp.set_color("black")
        sp.set_linewidth(0.9)
    ax.set_xlabel("")
    ax.set_ylabel("")
    ax.text(1.0, -0.145, "sector", transform=ax.transAxes, ha="right", va="center", fontsize=6.0)
    ax.text(-0.124, 1.0, pan["ylabel"], transform=ax.transAxes, ha="right", va="top",
            rotation=90, fontsize=6.6)
    fig.text(title_pos[i][0], title_pos[i][1], pan["title"], ha="left", va="center",
             fontsize=6.4, fontweight="bold")

fig.savefig("out.png", dpi=100)
